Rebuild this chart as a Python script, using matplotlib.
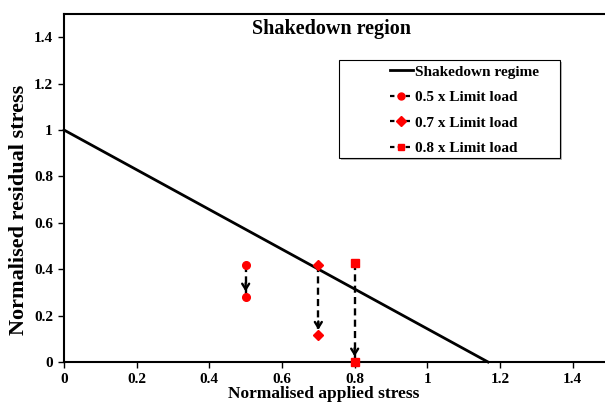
import matplotlib.pyplot as plt
import matplotlib as mpl
from matplotlib.lines import Line2D
from matplotlib.patches import Rectangle
from matplotlib.ticker import FuncFormatter, MultipleLocator

# shakedown boundary (normalised applied vs residual stress)
REGIME_X = [0.0, 1.167]
REGIME_Y = [1.0, 0.0]

# load cases: applied stress, residual before -> after
LOAD_LABELS = ["0.5 x Limit load", "0.7 x Limit load", "0.8 x Limit load"]
LOAD_X = [0.5, 0.7, 0.8]
RES_START = [0.42, 0.42, 0.425]
RES_END = [0.28, 0.115, 0.0]
MARKERS = ["o", "D", "s"]

OUT = "out.png"


def main():
    mpl.rcParams["font.family"] = ["Liberation Serif", "DejaVu Serif"]
    mpl.rcParams["font.weight"] = "bold"

    fig = plt.figure(figsize=(6.05, 4.03), dpi=100)
    fig.patch.set_facecolor("white")
    ax = fig.add_axes([64 / 605, 1 - 362 / 403, 545 / 605, 348 / 403])

    ax.plot(REGIME_X, REGIME_Y, color="black", lw=2, zorder=3, clip_on=False)

    for x, y0, y1, mk in zip(LOAD_X, RES_START, RES_END, MARKERS):
        ax.plot([x, x], [y0, y1], color="black", lw=1.7, ls=(0, (3, 1.8)), zorder=3)
        ax.annotate("", xy=(x, y1), xytext=(0, 10), textcoords="offset points",
                    arrowprops=dict(arrowstyle="->,head_length=0.4,head_width=0.25",
                                    color="black", lw=1.7, shrinkA=0, shrinkB=4),
                    zorder=4)
        ax.plot([x, x], [y0, y1], ls="none", marker=mk, color="red", ms=5.5,
                zorder=5, clip_on=False)

    ax.set_xlim(0, 1.5)
    ax.set_ylim(0, 1.5)
    ax.xaxis.set_major_locator(MultipleLocator(0.2))
    ax.yaxis.set_major_locator(MultipleLocator(0.2))
    fmt = FuncFormatter(lambda v, p: f"{v:g}" if v < 1.45 else "")
    ax.xaxis.set_major_formatter(fmt)
    ax.yaxis.set_major_formatter(fmt)
    ax.tick_params(direction="out", length=4, width=1, labelsize=11, pad=4)
    for lab in ax.get_xticklabels() + ax.get_yticklabels():
        lab.set_fontweight("bold")
    for sp in ax.spines.values():
        sp.set_linewidth(1.5)

    fig.text(332 / 605, 1 - 29 / 403, "Shakedown region", ha="center", va="center",
             fontsize=14.5, fontweight="bold")
    fig.text(324 / 605, 0.002, "Normalised applied stress", ha="center",
             va="bottom", fontsize=12.5, fontweight="bold")
    fig.text(19 / 605, 1 - 210 / 403, "Normalised residual stress", ha="center",
             va="center", rotation=90, fontsize=16, fontweight="bold")

    # legend frame with a faint shadow, like the source chart
    fig.add_artist(Rectangle((341 / 605, 1 - 160 / 403), 221 / 605, 98 / 403,
                             transform=fig.transFigure, facecolor="#bbbbbb",
                             edgecolor="none", zorder=1))
    fig.add_artist(Rectangle((339 / 605, 1 - 158 / 403), 221 / 605, 98 / 403,
                             transform=fig.transFigure, facecolor="white",
                             edgecolor="black", lw=0.8, zorder=1.5))

    handles = [Line2D([], [], color="black", lw=2)]
    for mk in MARKERS:
        handles.append(Line2D([], [], color="black", lw=1.6, ls=(0, (2, 1.5)),
                              marker=mk, mfc="red", mec="red", ms=5, markevery=[0]))
    fig.legend(handles, ["Shakedown regime"] + LOAD_LABELS, loc="upper left",
               bbox_to_anchor=(390 / 605, 1 - 65 / 403), frameon=False,
               borderpad=0, borderaxespad=0, handlelength=1.5, handletextpad=0.15,
               labelspacing=0.77, prop={"size": 11, "weight": "bold"})

    fig.savefig(OUT, dpi=100, facecolor="white")
    plt.close(fig)


if __name__ == "__main__":
    main()
